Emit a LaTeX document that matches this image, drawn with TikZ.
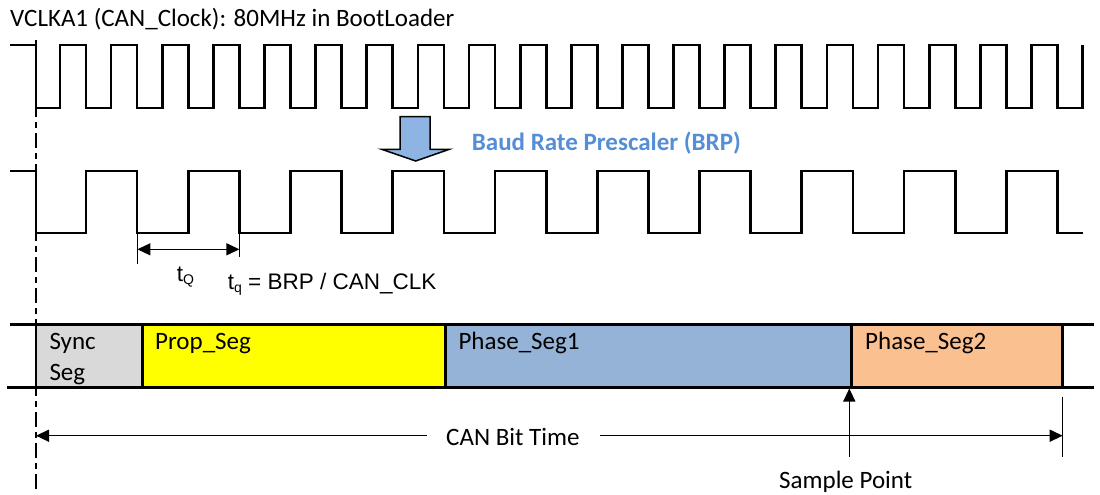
\documentclass[tikz,border=0pt]{standalone}
\usepackage{fontspec}
\setmainfont{Carlito}
\newfontfamily\arialf{Liberation Sans}
\usetikzlibrary{arrows.meta}
\definecolor{syncgray}{HTML}{D9D9D9}
\definecolor{propyellow}{HTML}{FFFF00}
\definecolor{phaseblue}{HTML}{95B3D7}
\definecolor{phaseorange}{HTML}{FAC090}
\definecolor{brpblue}{HTML}{558ED5}
\definecolor{arrowfill}{HTML}{8EB4E3}
\begin{document}
\begin{tikzpicture}[x=1pt,y=-1pt,
  clk/.style={line width=2.7pt, line join=miter},
  bandline/.style={line width=2.7pt},
  txt/.style={inner sep=0pt, anchor=base west, font=\fontsize{25}{30}\selectfont},
  atxt/.style={inner sep=0pt, anchor=base west, font=\arialf\fontsize{22.5}{27}\selectfont},
  dimline/.style={line width=1.4pt},
  tick/.style={line width=1.8pt},
  tipend/.style={-{Triangle[length=13pt,width=12pt]}},
  bothtips/.style={{Triangle[length=13pt,width=12pt]}-{Triangle[length=13pt,width=12pt]}},
  guide/.style={line width=2.4pt, dash pattern=on 15pt off 5pt on 6pt off 5pt}
]
\useasboundingbox (0,0) rectangle (1100,495);

% title
\node[txt] (title) at (10,26.7) {VCLKA1 (CAN\_Clock): 80MHz in BootLoader};

% top clock
\draw[clk] (10,45) -- (36,45) -- (36,108)
  \foreach \k in {0,...,19} { -- ({60+51.13*\k},108) -- ({60+51.13*\k},45) -- ({86+51.13*\k},45) -- ({86+51.13*\k},108) }
  -- (1082.6,108) -- (1082.6,45);

% block arrow
\draw[fill=arrowfill, line width=1.5pt, line join=miter]
  (400,116.7) -- (430,116.7) -- (430,149.3) -- (449.3,149.3) -- (415.7,161)
  -- (381.7,149.3) -- (400,149.3) -- cycle;
\node[txt, font=\fontsize{25}{30}\selectfont\bfseries, text=brpblue] (brp) at (471.7,150) {Baud Rate Prescaler (BRP)};

% BRP clock
\draw[clk] (10,171) -- (36,171) -- (36,233)
  \foreach \j in {0,...,9} { -- ({86+102.26*\j},233) -- ({86+102.26*\j},171) -- ({137.13+102.26*\j},171) -- ({137.13+102.26*\j},233) }
  -- (1082.6,233);

% tQ dimension
\coordinate (tqa) at (137.4,249.3);
\coordinate (tqb) at (239.4,249.3);
\draw[tick] (137.4,233) -- (137.4,264.3);
\draw[tick] (239.4,233) -- (239.4,256.7);
\draw[dimline, bothtips] (tqa) -- (tqb);
\node[atxt] (tq) at (176.7,281.7) {t{\fontsize{14}{14}\selectfont\raisebox{-3pt}{Q}}};
\node[atxt] (tqdef) at (227.7,289.3) {t{\fontsize{14}{14}\selectfont\raisebox{-3pt}{q}} = BRP / CAN\_CLK};

% segment band
\fill[syncgray] (36,324.3) rectangle (142.3,387.3);
\fill[propyellow] (142.3,324.3) rectangle (445.7,387.3);
\fill[phaseblue] (445.7,324.3) rectangle (851.7,387.3);
\fill[phaseorange] (851.7,324.3) rectangle (1062.7,387.3);
\draw[bandline] (10,324.3) -- (1094,324.3);
\draw[bandline] (7,387.3) -- (1094,387.3);
\foreach \x in {36,142.3,445.7,851.7,1062.7} { \draw[bandline] (\x,324.3) -- (\x,387.3); }
\node[txt] (sync1) at (49.3,349.3) {Sync};
\node[txt] (sync2) at (49.3,380.3) {Seg};
\node[txt] (prop) at (155,349.3) {Prop\_Seg};
\node[txt] (ph1) at (458.3,349.3) {Phase\_Seg1};
\node[txt] (ph2) at (865,349.3) {Phase\_Seg2};

% dashed guide
\draw[guide] (36,40) -- (36,490);

% CAN bit time
\node[txt] (bittime) at (446,445) {CAN Bit Time};
\coordinate (btl) at (426.7,435.7);
\coordinate (btr) at (600,435.7);
\coordinate (btlend) at (36,435.7);
\coordinate (btrend) at (1062.7,435.7);
\draw[dimline, tipend] (btl) -- (btlend);
\draw[dimline, tipend] (btr) -- (btrend);
\draw[dimline] (1062.7,396.7) -- (1062.7,456.7);

% sample point
\coordinate (spb) at (849.3,456.7);
\coordinate (spt) at (849.3,388.5);
\draw[dimline, tipend] (spb) -- (spt);
\node[txt] (sample) at (779,488.5) {Sample Point};
\end{tikzpicture}
\end{document}
